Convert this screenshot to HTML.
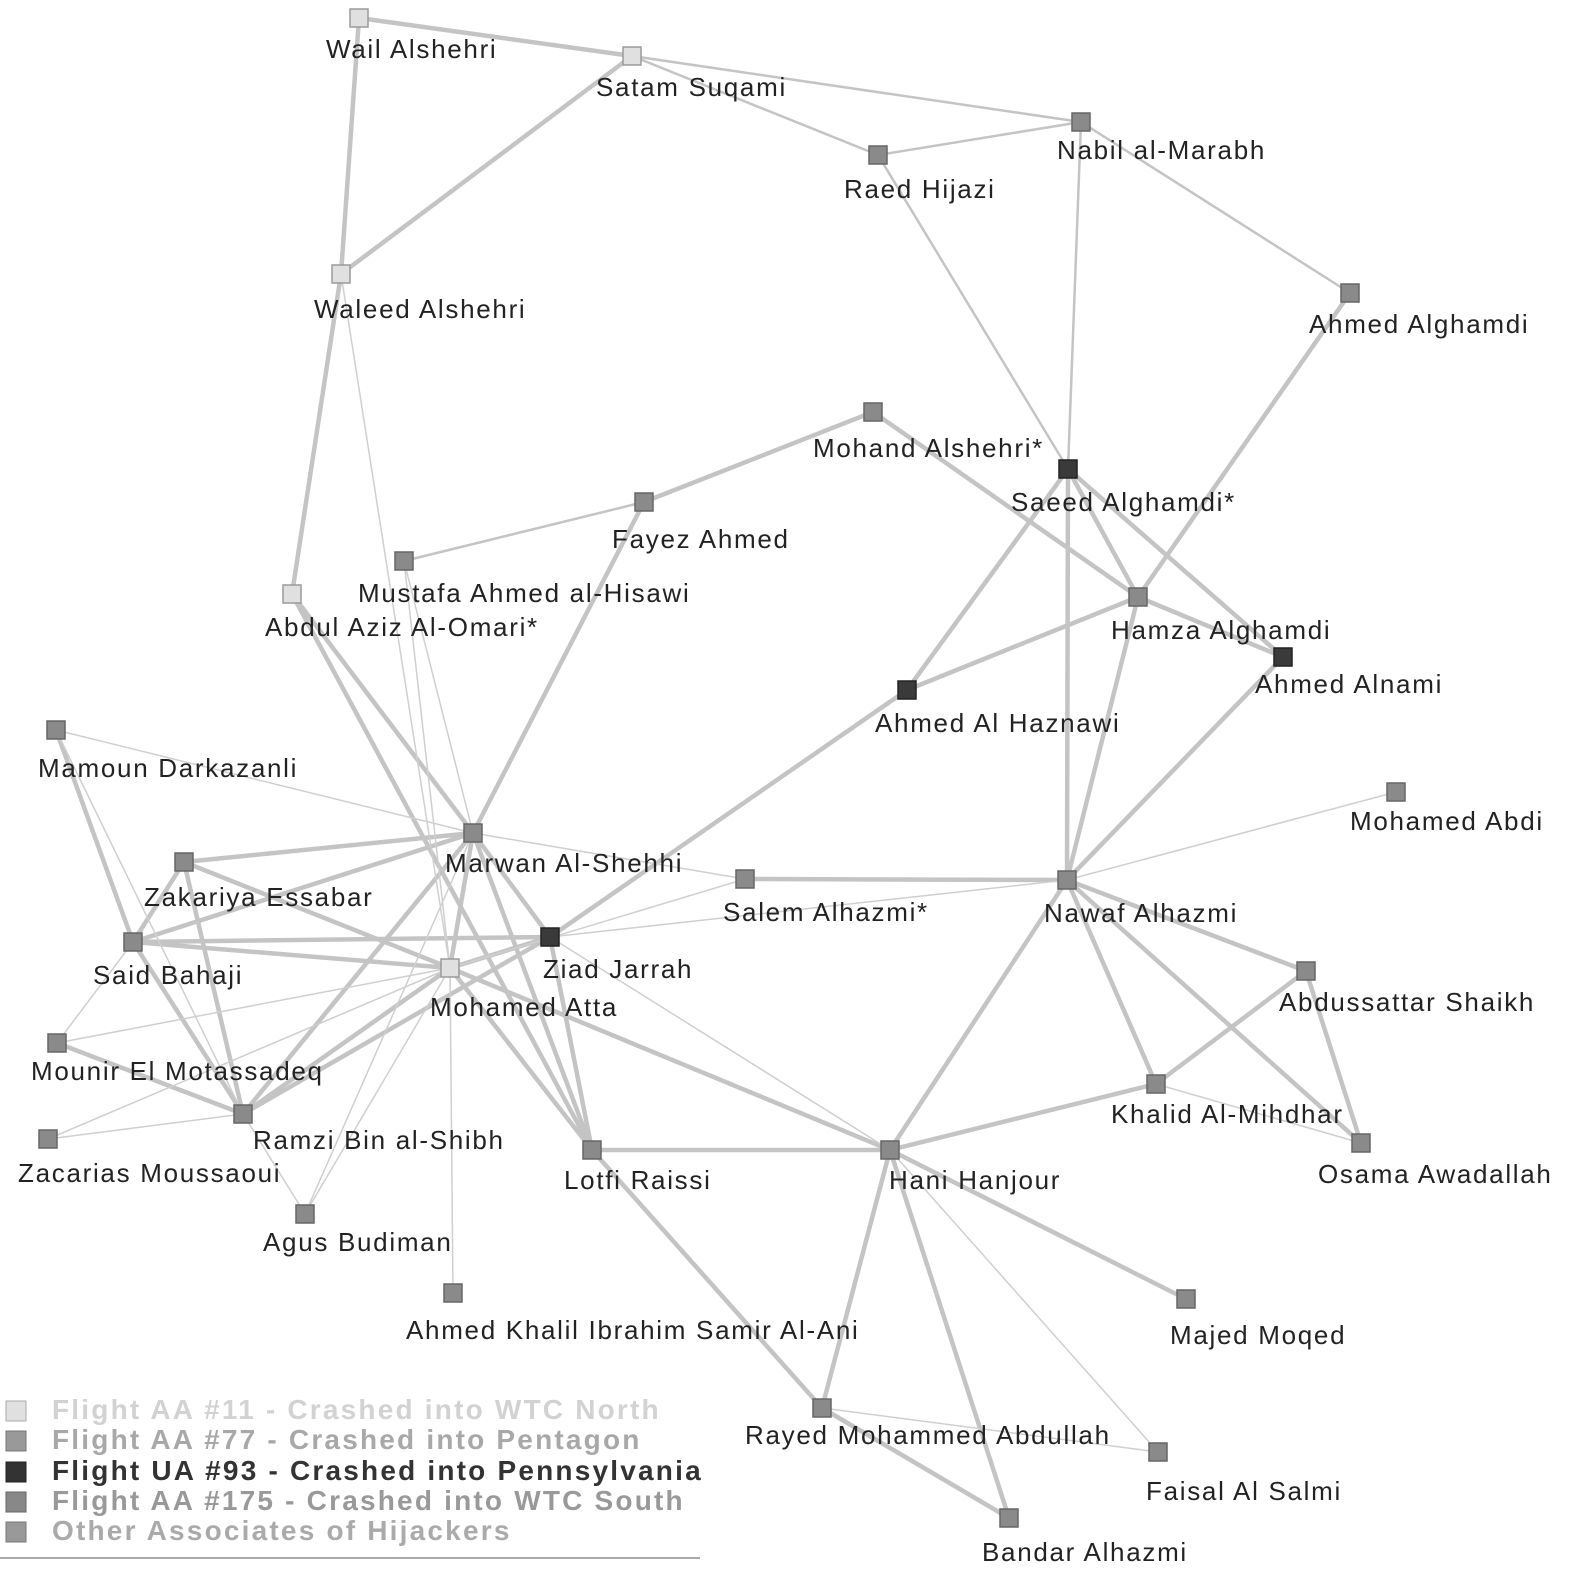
<!DOCTYPE html>
<html><head><meta charset="utf-8"><style>
html,body{margin:0;padding:0;background:#fff;}
svg{display:block;}
text{font-family:"Liberation Sans",sans-serif;}
</style></head><body>
<svg width="1582" height="1583" viewBox="0 0 1582 1583" xmlns="http://www.w3.org/2000/svg">
<g stroke="#c4c4c4" stroke-linecap="round" fill="none">
<g stroke-width="4.5">
<line x1="359" y1="18" x2="632" y2="56"/>
<line x1="359" y1="18" x2="341" y2="274"/>
<line x1="632" y1="56" x2="341" y2="274"/>
<line x1="341" y1="274" x2="292" y2="594"/>
<line x1="873" y1="412" x2="644" y2="502"/>
<line x1="644" y1="502" x2="473" y2="833"/>
<line x1="873" y1="412" x2="1138" y2="597"/>
<line x1="1068" y1="469" x2="1067" y2="880"/>
<line x1="1068" y1="469" x2="1138" y2="597"/>
<line x1="1068" y1="469" x2="1283" y2="657"/>
<line x1="1068" y1="469" x2="907" y2="690"/>
<line x1="1350" y1="293" x2="1138" y2="597"/>
<line x1="1138" y1="597" x2="907" y2="690"/>
<line x1="1138" y1="597" x2="1283" y2="657"/>
<line x1="1138" y1="597" x2="1067" y2="880"/>
<line x1="1283" y1="657" x2="1067" y2="880"/>
<line x1="907" y1="690" x2="550" y2="937"/>
<line x1="292" y1="594" x2="473" y2="833"/>
<line x1="292" y1="594" x2="592" y2="1150"/>
<line x1="56" y1="730" x2="133" y2="942"/>
<line x1="473" y1="833" x2="184" y2="862"/>
<line x1="473" y1="833" x2="133" y2="942"/>
<line x1="473" y1="833" x2="450" y2="968"/>
<line x1="473" y1="833" x2="550" y2="937"/>
<line x1="473" y1="833" x2="243" y2="1114"/>
<line x1="473" y1="833" x2="592" y2="1150"/>
<line x1="184" y1="862" x2="133" y2="942"/>
<line x1="184" y1="862" x2="450" y2="968"/>
<line x1="184" y1="862" x2="243" y2="1114"/>
<line x1="133" y1="942" x2="550" y2="937"/>
<line x1="133" y1="942" x2="450" y2="968"/>
<line x1="133" y1="942" x2="243" y2="1114"/>
<line x1="450" y1="968" x2="550" y2="937"/>
<line x1="450" y1="968" x2="243" y2="1114"/>
<line x1="450" y1="968" x2="592" y2="1150"/>
<line x1="450" y1="968" x2="890" y2="1150"/>
<line x1="550" y1="937" x2="243" y2="1114"/>
<line x1="550" y1="937" x2="592" y2="1150"/>
<line x1="57" y1="1043" x2="243" y2="1114"/>
<line x1="745" y1="879" x2="1067" y2="880"/>
<line x1="1067" y1="880" x2="890" y2="1150"/>
<line x1="1067" y1="880" x2="1156" y2="1084"/>
<line x1="1067" y1="880" x2="1361" y2="1143"/>
<line x1="1067" y1="880" x2="1306" y2="971"/>
<line x1="1306" y1="971" x2="1156" y2="1084"/>
<line x1="1306" y1="971" x2="1361" y2="1143"/>
<line x1="1156" y1="1084" x2="890" y2="1150"/>
<line x1="592" y1="1150" x2="890" y2="1150"/>
<line x1="592" y1="1150" x2="822" y2="1408"/>
<line x1="890" y1="1150" x2="1186" y2="1299"/>
<line x1="890" y1="1150" x2="822" y2="1408"/>
<line x1="890" y1="1150" x2="1009" y2="1518"/>
<line x1="822" y1="1408" x2="1009" y2="1518"/>
</g>
<g stroke-width="2.5">
<line x1="632" y1="56" x2="878" y2="155"/>
<line x1="878" y1="155" x2="1081" y2="122"/>
<line x1="1081" y1="122" x2="1068" y2="469"/>
<line x1="632" y1="56" x2="1081" y2="122"/>
<line x1="644" y1="502" x2="404" y2="561"/>
<line x1="878" y1="155" x2="1068" y2="469"/>
<line x1="1081" y1="122" x2="1350" y2="293"/>
</g>
<g stroke-width="1.5" stroke="#cfcfcf">
<line x1="341" y1="274" x2="450" y2="968"/>
<line x1="404" y1="561" x2="450" y2="968"/>
<line x1="56" y1="730" x2="473" y2="833"/>
<line x1="56" y1="730" x2="243" y2="1114"/>
<line x1="473" y1="833" x2="745" y2="879"/>
<line x1="473" y1="833" x2="305" y2="1214"/>
<line x1="133" y1="942" x2="57" y2="1043"/>
<line x1="450" y1="968" x2="57" y2="1043"/>
<line x1="450" y1="968" x2="745" y2="879"/>
<line x1="450" y1="968" x2="453" y2="1293"/>
<line x1="450" y1="968" x2="305" y2="1214"/>
<line x1="550" y1="937" x2="1067" y2="880"/>
<line x1="550" y1="937" x2="890" y2="1150"/>
<line x1="48" y1="1139" x2="243" y2="1114"/>
<line x1="48" y1="1139" x2="450" y2="968"/>
<line x1="243" y1="1114" x2="305" y2="1214"/>
<line x1="1067" y1="880" x2="1396" y2="792"/>
<line x1="1156" y1="1084" x2="1361" y2="1143"/>
<line x1="890" y1="1150" x2="1158" y2="1452"/>
<line x1="822" y1="1408" x2="1158" y2="1452"/>
<line x1="404" y1="561" x2="473" y2="833"/>
</g>
</g>
<g stroke-width="1.5">
<g fill="#e0e0e0" stroke="#9a9a9a">
<rect x="350" y="9" width="18" height="18"/>
<rect x="623" y="47" width="18" height="18"/>
<rect x="332" y="265" width="18" height="18"/>
<rect x="283" y="585" width="18" height="18"/>
<rect x="441" y="959" width="18" height="18"/>
</g>
<g fill="#3a3a3a" stroke="#222">
<rect x="1059" y="460" width="18" height="18"/>
<rect x="1274" y="648" width="18" height="18"/>
<rect x="898" y="681" width="18" height="18"/>
<rect x="541" y="928" width="18" height="18"/>
</g>
<g fill="#8a8a8a" stroke="#666">
<rect x="1072" y="113" width="18" height="18"/>
<rect x="869" y="146" width="18" height="18"/>
<rect x="1341" y="284" width="18" height="18"/>
<rect x="864" y="403" width="18" height="18"/>
<rect x="635" y="493" width="18" height="18"/>
<rect x="395" y="552" width="18" height="18"/>
<rect x="1129" y="588" width="18" height="18"/>
<rect x="47" y="721" width="18" height="18"/>
<rect x="1387" y="783" width="18" height="18"/>
<rect x="464" y="824" width="18" height="18"/>
<rect x="175" y="853" width="18" height="18"/>
<rect x="736" y="870" width="18" height="18"/>
<rect x="1058" y="871" width="18" height="18"/>
<rect x="124" y="933" width="18" height="18"/>
<rect x="1297" y="962" width="18" height="18"/>
<rect x="48" y="1034" width="18" height="18"/>
<rect x="1147" y="1075" width="18" height="18"/>
<rect x="234" y="1105" width="18" height="18"/>
<rect x="39" y="1130" width="18" height="18"/>
<rect x="1352" y="1134" width="18" height="18"/>
<rect x="583" y="1141" width="18" height="18"/>
<rect x="881" y="1141" width="18" height="18"/>
<rect x="296" y="1205" width="18" height="18"/>
<rect x="444" y="1284" width="18" height="18"/>
<rect x="1177" y="1290" width="18" height="18"/>
<rect x="813" y="1399" width="18" height="18"/>
<rect x="1149" y="1443" width="18" height="18"/>
<rect x="1000" y="1509" width="18" height="18"/>
</g>
</g>
<g font-size="26" fill="#222" letter-spacing="1.7">
<text x="326" y="58">Wail Alshehri</text>
<text x="596" y="96">Satam Suqami</text>
<text x="1057" y="159">Nabil al-Marabh</text>
<text x="844" y="198">Raed Hijazi</text>
<text x="314" y="318">Waleed Alshehri</text>
<text x="1309" y="333">Ahmed Alghamdi</text>
<text x="813" y="457">Mohand Alshehri*</text>
<text x="1011" y="511">Saeed Alghamdi*</text>
<text x="612" y="548">Fayez Ahmed</text>
<text x="358" y="602">Mustafa Ahmed al-Hisawi</text>
<text x="265" y="636">Abdul Aziz Al-Omari*</text>
<text x="1111" y="639">Hamza Alghamdi</text>
<text x="1255" y="693">Ahmed Alnami</text>
<text x="875" y="732">Ahmed Al Haznawi</text>
<text x="38" y="777">Mamoun Darkazanli</text>
<text x="1350" y="830">Mohamed Abdi</text>
<text x="445" y="872">Marwan Al-Shehhi</text>
<text x="144" y="906">Zakariya Essabar</text>
<text x="723" y="921">Salem Alhazmi*</text>
<text x="1044" y="922">Nawaf Alhazmi</text>
<text x="93" y="984">Said Bahaji</text>
<text x="543" y="978">Ziad Jarrah</text>
<text x="430" y="1016">Mohamed Atta</text>
<text x="1279" y="1011">Abdussattar Shaikh</text>
<text x="31" y="1080">Mounir El Motassadeq</text>
<text x="1111" y="1123">Khalid Al-Mihdhar</text>
<text x="253" y="1149">Ramzi Bin al-Shibh</text>
<text x="18" y="1182">Zacarias Moussaoui</text>
<text x="1318" y="1183">Osama Awadallah</text>
<text x="564" y="1189">Lotfi Raissi</text>
<text x="889" y="1189">Hani Hanjour</text>
<text x="263" y="1251">Agus Budiman</text>
<text x="406" y="1339">Ahmed Khalil Ibrahim Samir Al-Ani</text>
<text x="1170" y="1344">Majed Moqed</text>
<text x="745" y="1444">Rayed Mohammed Abdullah</text>
<text x="1146" y="1500">Faisal Al Salmi</text>
<text x="982" y="1561">Bandar Alhazmi</text>
</g>
<g font-size="28" font-weight="bold" letter-spacing="2.2">
<rect x="6" y="1401" width="20" height="20" fill="#e0e0e0" stroke="#aaa"/>
<text x="52" y="1419" fill="#d2d2d2">Flight AA #11 - Crashed into WTC North</text>
<rect x="6" y="1431" width="20" height="20" fill="#999" stroke="#777"/>
<text x="52" y="1449" fill="#a8a8a8">Flight AA #77 - Crashed into Pentagon</text>
<rect x="6" y="1462" width="20" height="20" fill="#333" stroke="#222"/>
<text x="52" y="1480" fill="#333">Flight UA #93 - Crashed into Pennsylvania</text>
<rect x="6" y="1492" width="20" height="20" fill="#888" stroke="#666"/>
<text x="52" y="1510" fill="#999">Flight AA #175 - Crashed into WTC South</text>
<rect x="6" y="1522" width="20" height="20" fill="#999" stroke="#777"/>
<text x="52" y="1540" fill="#aaa">Other Associates of Hijackers</text>
</g>
<line x1="0" y1="1558" x2="700" y2="1558" stroke="#aaa" stroke-width="2"/>
</svg>
</body></html>
